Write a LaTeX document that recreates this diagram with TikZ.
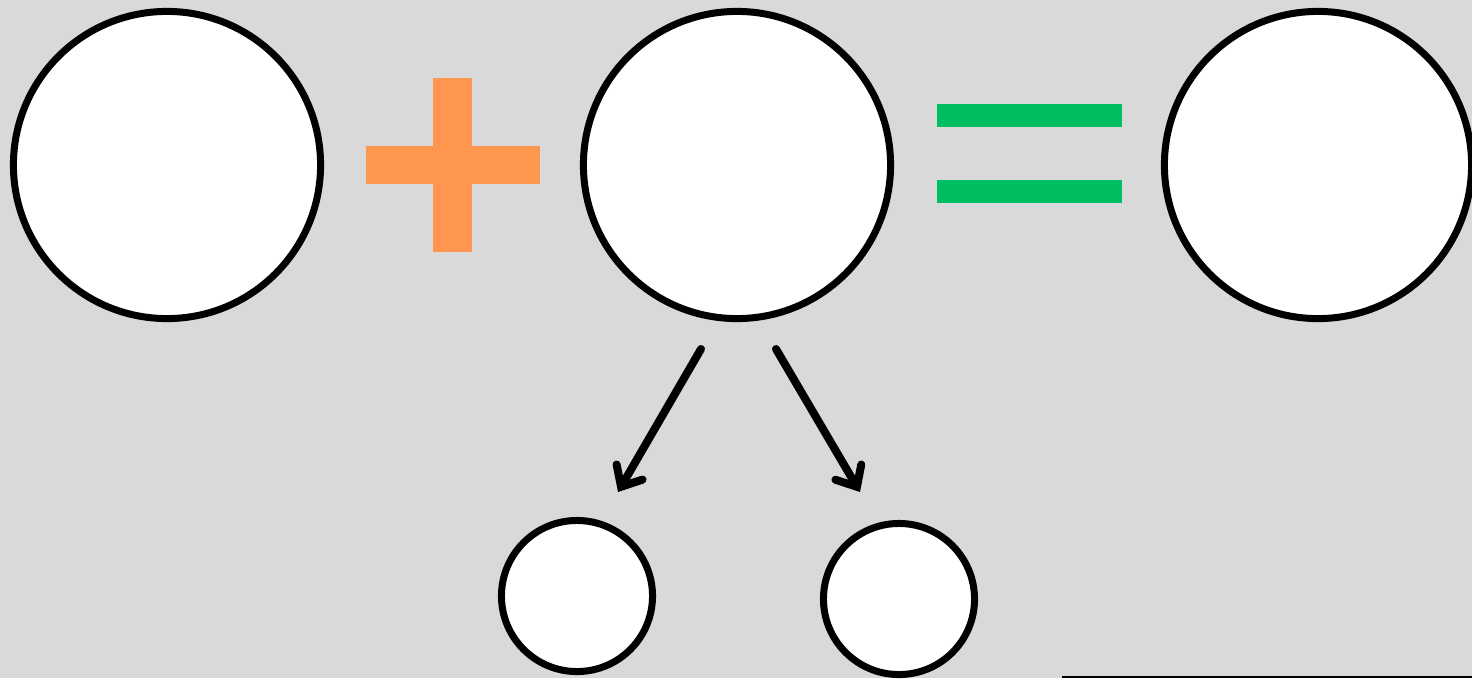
\documentclass[tikz,border=0pt]{standalone}
\usetikzlibrary{arrows.meta}
\definecolor{bgrey}{HTML}{D9D9D9}
\definecolor{plusorange}{HTML}{FF9650}
\definecolor{eqgreen}{HTML}{00BF63}
\tikzset{
  ring/.style={circle,draw=black,fill=white,line width=0.07cm,inner sep=0pt},
  bigring/.style={ring,minimum size=3.07cm},
  smallring/.style={ring,minimum size=1.51cm},
  split/.style={line width=0.08cm,line cap=round,-{Straight Barb[length=0.17cm,width=0.3cm,line cap=round]}}
}
\begin{document}
\begin{tikzpicture}[x=0.01cm,y=-0.01cm]
  \fill[bgrey] (0,0) rectangle (1472,678);
  \useasboundingbox (0,0) rectangle (1472,678);
  % top row
  \node[bigring] (lhs) at (167,165) {};
  \node[bigring] (mid) at (737,165) {};
  \node[bigring] (rhs) at (1318,165) {};
  \fill[plusorange] (433,78) rectangle (472,252);
  \fill[plusorange] (366,146) rectangle (540,184);
  \fill[eqgreen] (937,104) rectangle (1122,127);
  \fill[eqgreen] (937,180) rectangle (1122,203);
  % split of the middle one
  \node[smallring] (partA) at (577,596) {};
  \node[smallring] (partB) at (899,599) {};
  \coordinate (sA0) at (701,349); \coordinate (sA1) at (618,492);
  \coordinate (sB0) at (776,349); \coordinate (sB1) at (860,492);
  \draw[split] (sA0)--(sA1);
  \draw[split] (sB0)--(sB1);
  \coordinate (u0) at (1062,677); \coordinate (u1) at (1472,677);
  \draw[line width=0.02cm] (u0)--(u1);
\end{tikzpicture}
\end{document}
